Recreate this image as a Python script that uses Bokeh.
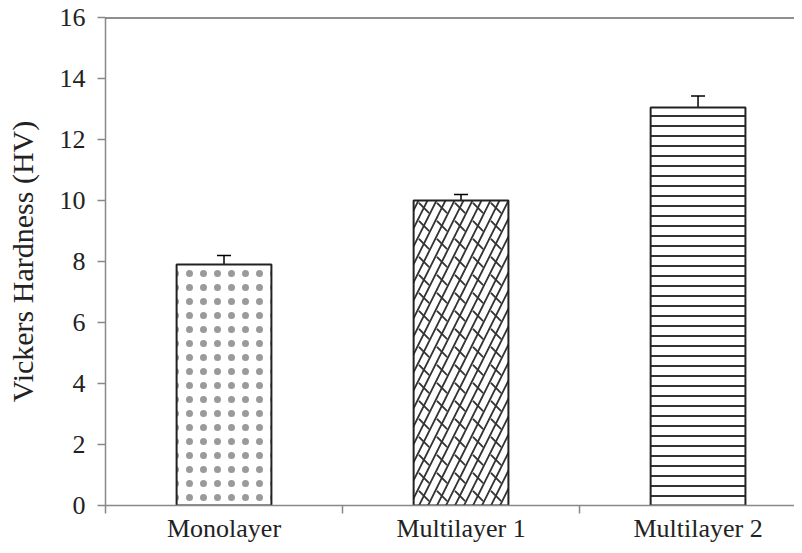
from bokeh.plotting import figure
from bokeh.models import FixedTicker, Span, Whisker, TeeHead, ColumnDataSource, Range1d
from bokeh.embed import file_html
from bokeh.resources import INLINE

categories = ["Monolayer", "Multilayer 1", "Multilayer 2"]
hardness = [7.9, 10.0, 13.05]
errors = [0.3, 0.2, 0.38]
y_ticks = [0, 2, 4, 6, 8, 10, 12, 14, 16]

xs = [i + 0.5 for i in range(len(categories))]
src = ColumnDataSource(dict(
    x=xs, top=hardness,
    upper=[v + e for v, e in zip(hardness, errors)],
    lower=[v - e for v, e in zip(hardness, errors)],
))

p = figure(width=794, height=545, output_backend="svg", toolbar_location=None,
           x_range=Range1d(0, 2.907), y_range=Range1d(0, 16),
           min_border_left=105, min_border_top=17, min_border_right=0, min_border_bottom=38)
p.outline_line_color = None
p.xgrid.visible = False
p.ygrid.visible = False
p.background_fill_color = "white"

BW = 0.4
ink = "#333333"
# Monolayer: dotted
p.vbar(x=xs[0], top=hardness[0], width=BW, bottom=0,
       fill_color="white", line_color=None,
       hatch_pattern="dot", hatch_scale=14, hatch_color="#9a9a9a", hatch_weight=0.7)
# Multilayer 1: brick-like diagonal
p.vbar(x=xs[1], top=hardness[1], width=BW, bottom=0,
       fill_color="white", line_color=None,
       hatch_pattern="right_diagonal_line", hatch_scale=18, hatch_color=ink, hatch_weight=1.8)
p.vbar(x=xs[1], top=hardness[1], width=BW, bottom=0,
       fill_color=None, line_color=None,
       hatch_pattern="left_diagonal_dash", hatch_scale=18, hatch_color=ink, hatch_weight=1.8)
# Multilayer 2: horizontal lines
p.vbar(x=xs[2], top=hardness[2], width=BW, bottom=0,
       fill_color="white", line_color=None,
       hatch_pattern="horizontal_line", hatch_scale=10, hatch_color=ink, hatch_weight=2)
# outlines
p.vbar(x="x", top="top", width=BW, bottom=0, source=src,
       fill_color=None, line_color="#222222", line_width=2)

w = Whisker(base="x", upper="upper", lower="lower", source=src,
            line_color="black", line_width=1.5,
            upper_head=TeeHead(size=14, line_color="black", line_width=1.5),
            lower_head=TeeHead(size=14, line_color="black", line_width=1.5))
p.add_layout(w)

p.add_layout(Span(location=16, dimension="width", line_color="#222222", line_width=2))

font = "Liberation Serif"
p.yaxis.ticker = FixedTicker(ticks=y_ticks)
p.yaxis.axis_label = "Vickers Hardness (HV)"
p.yaxis.axis_label_text_font = font
p.yaxis.axis_label_text_font_style = "normal"
p.yaxis.axis_label_text_font_size = "30px"
p.yaxis.axis_label_text_color = "#222222"
p.yaxis.axis_label_standoff = 18
p.yaxis.minor_tick_line_color = None

p.xaxis.ticker = FixedTicker(ticks=xs, minor_ticks=[0, 1, 2, 3])
p.xaxis.major_label_overrides = {x: c for x, c in zip(xs, categories)}
p.xaxis.major_tick_out = 0
p.xaxis.major_tick_in = 0
p.xaxis.minor_tick_out = 8
p.xaxis.minor_tick_in = 0
p.xaxis.major_label_standoff = 0

for ax in (p.xaxis, p.yaxis):
    ax.axis_line_color = "#888888"
    ax.axis_line_width = 1.5
    ax.major_label_text_font = font
    ax.major_label_text_font_size = "26px"
    ax.major_label_text_color = "#222222"
p.yaxis.major_tick_line_color = "#888888"
p.yaxis.major_tick_line_width = 1.5
p.yaxis.major_tick_out = 8
p.yaxis.major_tick_in = 0
p.yaxis.major_label_standoff = 12
p.xaxis.minor_tick_line_color = "#888888"
p.xaxis.minor_tick_line_width = 1.5

open("out.html", "w").write(file_html(p, INLINE))
